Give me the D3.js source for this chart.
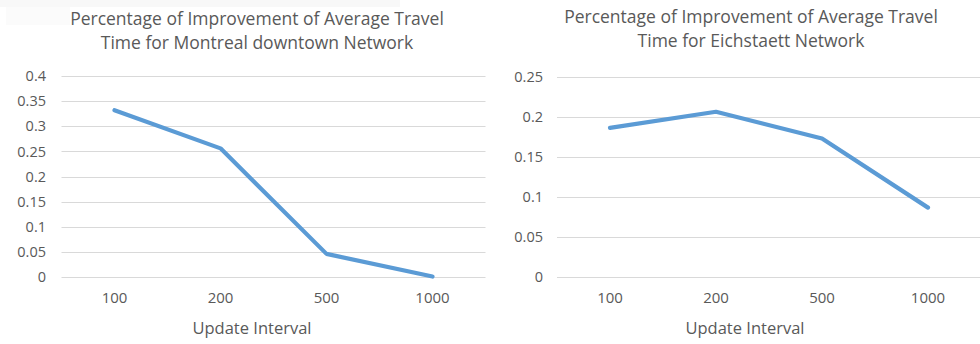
<!DOCTYPE html>
<html>
<head>
<meta charset="utf-8">
<script src="https://cdn.jsdelivr.net/npm/d3@7"></script>
<style>
  html, body { margin: 0; padding: 0; background: #fff; }
  svg { display: block; }
  text { font-family: "Open Sans", "Noto Sans", sans-serif; fill: #595959; }
</style>
</head>
<body>
<svg id="chart" width="980" height="344"></svg>
<script>
// Update intervals on the x axis
const categories = ["100", "200", "500", "1000"];

// Improvement of average travel time per network
const montrealValues = [0.332, 0.256, 0.046, 0.001];
const eichstaettValues = [0.186, 0.206, 0.1726, 0.0865];

// Tick labels on each value axis
const montrealTicks = [0, 0.05, 0.1, 0.15, 0.2, 0.25, 0.3, 0.35, 0.4];
const eichstaettTicks = [0, 0.05, 0.1, 0.15, 0.2, 0.25];

const titlesMontreal = ["Percentage of Improvement of Average Travel", "Time for Montreal downtown Network"];
const titlesEichstaett = ["Percentage of Improvement of Average Travel", "Time for Eichstaett Network"];
const xTitle = "Update Interval";

const svg = d3.select("#chart");

// faint strip along the top edge
svg.append("rect").attr("x", 0).attr("y", 0).attr("width", 400).attr("height", 7).attr("fill", "#f8f8f8");
svg.append("rect").attr("x", 6).attr("y", 7).attr("width", 64).attr("height", 18).attr("fill", "#fbfbfb");

function drawPanel(cfg) {
  const g = svg.append("g");
  const x = d3.scaleBand().domain(categories).range([cfg.x0, cfg.x1]).padding(0);
  const y = d3.scaleLinear().domain([0, cfg.max]).range([cfg.yBottom, cfg.yTop]);

  // horizontal gridlines
  g.append("g").selectAll("line").data(cfg.ticks).join("line")
    .attr("x1", cfg.x0).attr("x2", cfg.x1)
    .attr("y1", d => Math.round(y(d)) + 0.5).attr("y2", d => Math.round(y(d)) + 0.5)
    .attr("stroke", "#d9d9d9").attr("stroke-width", 1.2);

  // value axis labels
  const yAxis = d3.axisLeft(y).tickValues(cfg.ticks).tickSize(0).tickPadding(0)
    .tickFormat(d => String(+d.toFixed(2)));
  const ya = g.append("g").attr("transform", `translate(${cfg.labelRight},0)`).call(yAxis);
  ya.select(".domain").remove();
  ya.attr("font-size", null).attr("font-family", null);
  ya.selectAll("text").style("font-size", "14.5px").style("fill", "#595959");

  // category axis labels
  const xAxis = d3.axisBottom(x).tickSize(0).tickPadding(0);
  const xa = g.append("g").attr("transform", `translate(0,${cfg.xLabelY})`).call(xAxis);
  xa.select(".domain").remove();
  xa.attr("font-size", null).attr("font-family", null);
  xa.selectAll("text").attr("dy", "0.35em").style("font-size", "15px").style("fill", "#595959");

  // series line
  const line = d3.line()
    .x((d, i) => x(categories[i]) + x.bandwidth() / 2)
    .y(d => y(d));
  g.append("path").datum(cfg.values)
    .attr("d", line)
    .attr("fill", "none")
    .attr("stroke", "#5b9bd5")
    .attr("stroke-width", 4.2)
    .attr("stroke-linejoin", "round")
    .attr("stroke-linecap", "round");

  // chart title
  g.append("g").selectAll("text").data(cfg.titles).join("text")
    .attr("x", cfg.titleX).attr("y", (d, i) => cfg.titleY + i * 24)
    .attr("text-anchor", "middle").attr("dy", "0.35em")
    .style("font-size", "17.5px")
    .text(d => d);

  // axis title
  g.append("text")
    .attr("x", cfg.axisTitleX).attr("y", 328).attr("dy", "0.35em")
    .attr("text-anchor", "middle").style("font-size", "16.5px")
    .text(xTitle);
}

drawPanel({
  x0: 61.5, x1: 485.5, yTop: 76, yBottom: 277, max: 0.4,
  ticks: montrealTicks, values: montrealValues,
  labelRight: 46, xLabelY: 298,
  titles: titlesMontreal, titleX: 257, titleY: 19, axisTitleX: 252
});

drawPanel({
  x0: 557, x1: 981, yTop: 76.5, yBottom: 277, max: 0.25,
  ticks: eichstaettTicks, values: eichstaettValues,
  labelRight: 543, xLabelY: 298,
  titles: titlesEichstaett, titleX: 751, titleY: 17, axisTitleX: 745
});
</script>
</body>
</html>
